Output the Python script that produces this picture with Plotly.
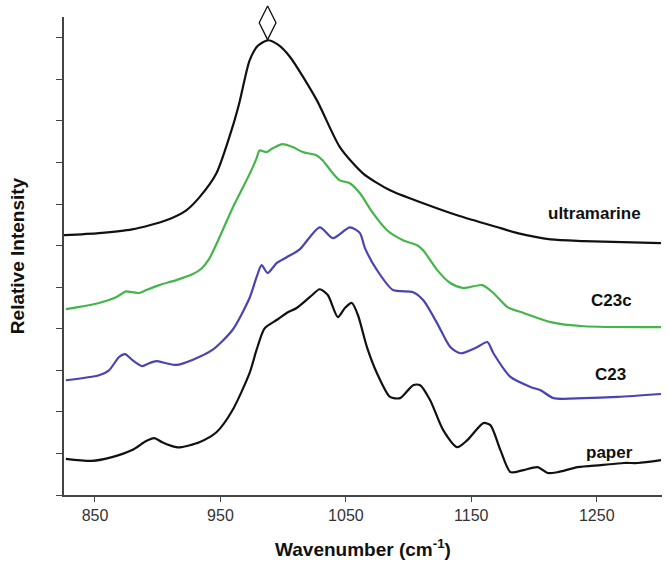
import plotly.graph_objects as go

# ---- data ----
ultra_x = [825.2, 853.2, 879.6, 906.8, 922.8, 933.2, 946.8, 959.6, 965.2, 973.2, 979.6, 987.6,
           995.6, 1005.2, 1026.8, 1045.2, 1063.6, 1085.2, 1111.6, 1138.8, 1173.2, 1186.8,
           1213.2, 1239.6, 1301.2]
ultra_y = [6.25, 6.30, 6.39, 6.61, 6.85, 7.16, 7.74, 8.85, 9.45, 10.45, 10.80, 10.94,
           10.84, 10.55, 9.50, 8.37, 7.74, 7.33, 7.02, 6.73, 6.42, 6.30,
           6.15, 6.11, 6.06]

c23c_x = [826.8, 853.2, 866.8, 874.8, 879.6, 885.2, 890.8, 901.2, 914.8, 927.6, 935.0, 941.0,
          947.0, 959.6, 973.2, 978.8, 981.2, 986.8, 991.6, 999.6, 1007.6, 1015.6, 1026.8,
          1031.6, 1039.6, 1045.2, 1053.2, 1061.2, 1071.6, 1082.8, 1095.6, 1106.8, 1111.6,
          1122.8, 1133.2, 1143.6, 1158.8, 1167.6, 1178.8, 1191.6, 1213.2, 1239.6, 1301.2]
c23c_y = [4.47, 4.62, 4.76, 4.90, 4.88, 4.86, 4.93, 5.05, 5.17, 5.31, 5.45, 5.68,
          6.05, 6.90, 7.72, 8.10, 8.29, 8.25, 8.34, 8.44, 8.37, 8.25, 8.17,
          8.05, 7.74, 7.57, 7.50, 7.26, 6.78, 6.37, 6.13, 6.01, 5.89,
          5.41, 5.10, 4.98, 5.05, 4.86, 4.52, 4.38, 4.16, 4.06, 4.04]

c23_x = [826.8, 853.2, 861.2, 869.2, 874.0, 879.6, 887.6, 893.2, 898.8, 906.8, 914.8, 927.6,
         943.6, 959.6, 973.2, 978.8, 982.8, 987.6, 994.8, 1002.8, 1013.2, 1029.2, 1039.6,
         1053.2, 1061.2, 1065.2, 1074.8, 1087.6, 1103.6, 1111.6, 1122.8, 1133.2, 1141.2,
         1154.8, 1162.8, 1167.6, 1181.2, 1197.2, 1205.2, 1215.6, 1239.6, 1266.8, 1301.2]
c23_y = [2.76, 2.88, 3.00, 3.32, 3.39, 3.25, 3.10, 3.17, 3.22, 3.17, 3.13, 3.25,
         3.49, 3.97, 4.74, 5.24, 5.53, 5.34, 5.58, 5.72, 5.91, 6.44, 6.18,
         6.44, 6.30, 5.94, 5.41, 4.93, 4.88, 4.69, 4.13, 3.56, 3.41,
         3.56, 3.68, 3.41, 2.84, 2.60, 2.52, 2.33, 2.33, 2.36, 2.43]

paper_x = [826.8, 847.6, 863.6, 879.6, 890.8, 897.2, 903.6, 914.8, 918.8, 933.2, 946.8, 959.6,
           973.2, 978.8, 985.2, 994.8, 1002.8, 1010.8, 1021.2, 1029.2, 1035.6, 1043.6, 1049.2,
           1054.8, 1059.6, 1066.8, 1074.8, 1085.2, 1093.2, 1103.6, 1109.2, 1117.2, 1127.6,
           1138.8, 1146.8, 1159.6, 1165.2, 1173.2, 1181.2, 1191.6, 1202.8, 1210.8, 1218.8,
           1234.8, 1253.2, 1271.6, 1282.8, 1301.2]
paper_y = [0.87, 0.82, 0.91, 1.08, 1.30, 1.37, 1.27, 1.15, 1.15, 1.27, 1.51, 2.04,
           2.93, 3.49, 4.01, 4.21, 4.38, 4.50, 4.76, 4.95, 4.81, 4.28, 4.50,
           4.62, 4.33, 3.56, 2.93, 2.36, 2.33, 2.64, 2.64, 2.28, 1.56,
           1.15, 1.32, 1.73, 1.68, 1.08, 0.55, 0.60, 0.67, 0.53, 0.55,
           0.67, 0.72, 0.77, 0.77, 0.84]

series_names = ["ultramarine", "C23c", "C23", "paper"]
series_colors = ["#111111", "#45b549", "#4a44b2", "#111111"]
label_x = [1248, 1262, 1261, 1260]
label_y = [6.78, 4.67, 2.90, 1.03]

x_ticks = [850, 950, 1050, 1150, 1250]
y_ticks = list(range(0, 12))

fig = go.Figure()
for name, xs, ys, col in zip(series_names, [ultra_x, c23c_x, c23_x, paper_x],
                             [ultra_y, c23c_y, c23_y, paper_y], series_colors):
    fig.add_trace(go.Scatter(x=xs, y=ys, mode="lines", name=name,
                             line=dict(color=col, width=2.2, shape="spline", smoothing=0.7),
                             showlegend=False))

# diamond marker above the ultramarine band maximum
imax = max(range(len(ultra_y)), key=lambda i: ultra_y[i])
fig.add_trace(go.Scatter(x=[ultra_x[imax]], y=[ultra_y[imax] + 0.42], mode="markers",
                         marker=dict(symbol="diamond-tall-open", size=24,
                                     color="#111111", line=dict(width=1.3, color="#111111")),
                         showlegend=False, cliponaxis=False))

for name, lx, ly in zip(series_names, label_x, label_y):
    fig.add_annotation(x=lx, y=ly, text="<b>%s</b>" % name, showarrow=False,
                       font=dict(family="Liberation Sans, Arial", size=17, color="#111111"))

fig.update_layout(
    width=669, height=562,
    margin=dict(l=64, r=7, t=17, b=67),
    paper_bgcolor="white", plot_bgcolor="white",
    font=dict(family="Liberation Sans, Arial", color="#333333"),
    xaxis=dict(range=[825.3, 1302], tickvals=x_ticks, ticks="outside", ticklen=5,
               tickcolor="#444444", showline=True, linecolor="#444444", linewidth=1.5,
               showgrid=False, zeroline=False, tickfont=dict(size=16, color="#333333"),
               automargin=False,
               title=dict(text="<b>Wavenumber (cm<sup>-1</sup>)</b>", standoff=20,
                          font=dict(size=19, color="#111111"))),
    yaxis=dict(range=[0, 11.5], tickvals=y_ticks, ticks="outside", ticklen=6,
               tickcolor="#444444", showline=True, linecolor="#444444", linewidth=1.5,
               showgrid=False, zeroline=False, showticklabels=False, automargin=False,
               title=dict(text="<b>Relative Intensity</b>", standoff=27,
                          font=dict(size=19, color="#111111"))),
)

fig.write_html("out.html", config={"displayModeBar": False},
               post_script="document.body.style.margin='0';")
